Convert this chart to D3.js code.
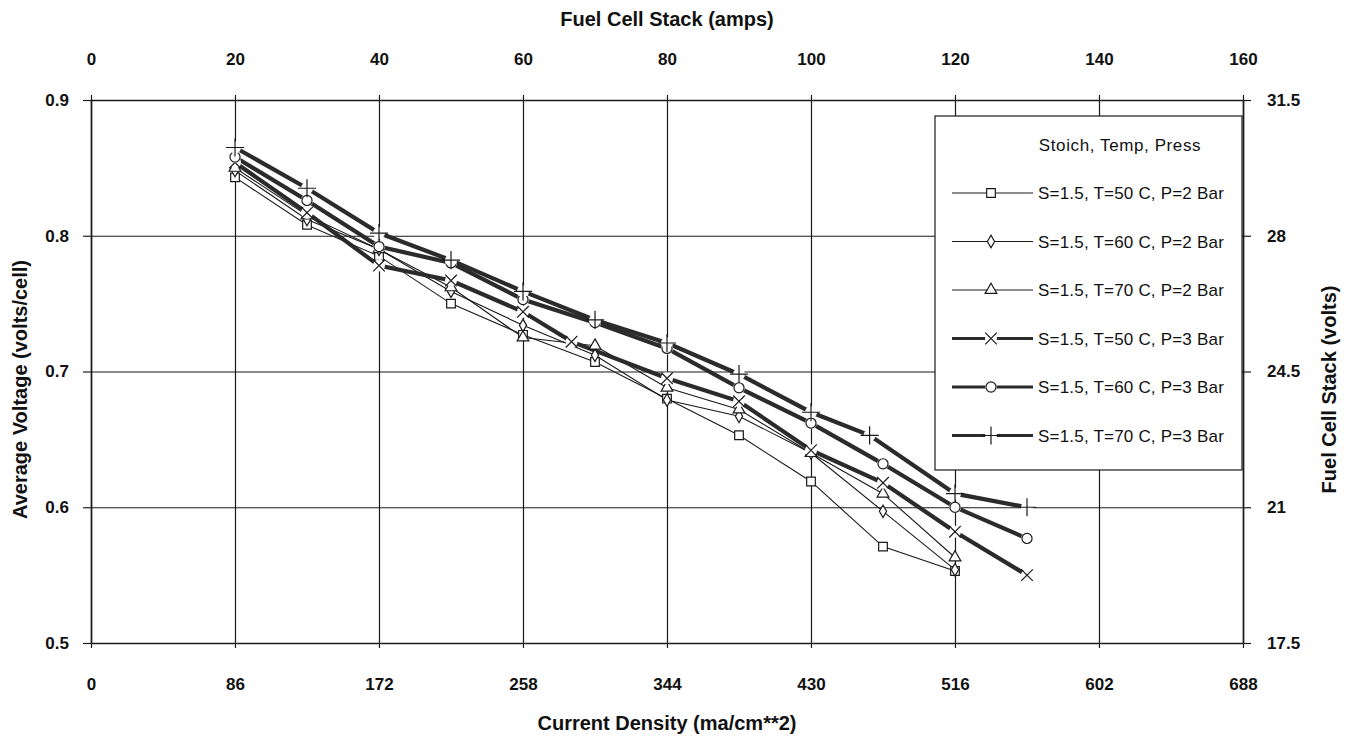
<!DOCTYPE html>
<html>
<head>
<meta charset="utf-8">
<script src="https://cdn.jsdelivr.net/npm/d3@7"></script>
<style>
  body { margin: 0; background: #fff; }
  svg text { font-family: Arial, "Liberation Sans", sans-serif; fill: #111; }
</style>
</head>
<body>
<div id="chart"></div>
<script>
// Current density points (ma/cm**2)
const cdStd = [86, 129, 172, 215, 258, 301, 344, 387, 430, 473, 516, 559];
const cd50C2 = cdStd.slice(0, 11);
const cd60C2 = cdStd.slice(0, 11);
const cd70C2 = cdStd.slice(0, 11);
const cd50C3 = [86, 129, 172, 215, 258, 287, 344, 387, 430, 473, 516, 559];
const cd60C3 = cdStd;
const cd70C3 = [86, 129, 172, 215, 258, 301, 344, 387, 430, 465, 516, 559];

// Average voltage (volts/cell)
const v50C2 = [0.843, 0.808, 0.785, 0.750, 0.727, 0.707, 0.680, 0.653, 0.619, 0.571, 0.553];
const v60C2 = [0.848, 0.812, 0.790, 0.759, 0.734, 0.712, 0.679, 0.667, 0.640, 0.597, 0.554];
const v70C2 = [0.850, 0.815, 0.790, 0.762, 0.725, 0.719, 0.688, 0.672, 0.640, 0.610, 0.563];
const v50C3 = [0.854, 0.817, 0.778, 0.767, 0.744, 0.722, 0.695, 0.678, 0.642, 0.618, 0.582, 0.550];
const v60C3 = [0.858, 0.826, 0.792, 0.780, 0.753, 0.736, 0.717, 0.688, 0.662, 0.632, 0.600, 0.577];
const v70C3 = [0.865, 0.835, 0.802, 0.782, 0.759, 0.738, 0.721, 0.698, 0.670, 0.653, 0.610, 0.600];

const seriesNames = [
  'S=1.5, T=50 C, P=2 Bar', 'S=1.5, T=60 C, P=2 Bar', 'S=1.5, T=70 C, P=2 Bar',
  'S=1.5, T=50 C, P=3 Bar', 'S=1.5, T=60 C, P=3 Bar', 'S=1.5, T=70 C, P=3 Bar'
];

// Axis ticks
const xTicks = [0, 86, 172, 258, 344, 430, 516, 602, 688];
const ampTicks = [0, 20, 40, 60, 80, 100, 120, 140, 160];
const yTicks = [0.5, 0.6, 0.7, 0.8, 0.9];
const stackTicks = [17.5, 21, 24.5, 28, 31.5];

const margin = { top: 100, right: 103, bottom: 96, left: 91 };
const W = 1346, H = 739;
const width = W - margin.left - margin.right;
const height = H - margin.top - margin.bottom;

const svg = d3.select('#chart').append('svg')
  .attr('width', W).attr('height', H);
const g = svg.append('g').attr('transform', `translate(${margin.left},${margin.top})`);

const x = d3.scaleLinear().domain([0, 688]).range([0, width]);
const xAmp = d3.scaleLinear().domain([0, 160]).range([0, width]);
const y = d3.scaleLinear().domain([0.5, 0.9]).range([height, 0]);
const yStack = d3.scaleLinear().domain([17.5, 31.5]).range([height, 0]);

const ink = '#1a1a1a';

// Grid lines
g.append('g')
  .call(d3.axisBottom(x).tickValues(xTicks).tickSize(height).tickFormat(''))
  .call(s => s.select('.domain').remove())
  .selectAll('line').attr('stroke', ink).attr('stroke-width', 1.2);
g.append('g')
  .call(d3.axisLeft(y).tickValues(yTicks).tickSize(-width).tickFormat(''))
  .call(s => s.select('.domain').remove())
  .selectAll('line').attr('stroke', ink).attr('stroke-width', 1.2);

// Axes
function styleAxis(sel) {
  sel.select('.domain').attr('stroke', ink).attr('stroke-width', 1.6);
  sel.selectAll('.tick line').attr('stroke', ink).attr('stroke-width', 1.2);
  sel.selectAll('text').style('font-size', '17px').style('font-weight', 'bold').attr('fill', ink);
}
g.append('g').attr('transform', `translate(0,${height})`)
  .call(d3.axisBottom(x).tickValues(xTicks).tickSize(5).tickPadding(30).tickSizeOuter(0))
  .call(styleAxis);
g.append('g')
  .call(d3.axisTop(xAmp).tickValues(ampTicks).tickSize(5).tickPadding(30).tickSizeOuter(0))
  .call(styleAxis);
g.append('g')
  .call(d3.axisLeft(y).tickValues(yTicks).tickSize(8).tickPadding(14).tickSizeOuter(0)
    .tickFormat(d3.format('.1f')))
  .call(styleAxis);
g.append('g').attr('transform', `translate(${width},0)`)
  .call(d3.axisRight(yStack).tickValues(stackTicks).tickSize(8).tickPadding(16).tickSizeOuter(0)
    .tickFormat(d => d3.format('.1f')(d).replace('.0', '')))
  .call(styleAxis);

// Axis titles
const titleSize = '20px';
svg.append('text').attr('x', margin.left + width / 2).attr('y', 26)
  .attr('text-anchor', 'middle').style('font-size', titleSize).style('font-weight', 'bold')
  .text('Fuel Cell Stack (amps)');
svg.append('text').attr('x', margin.left + width / 2).attr('y', 730)
  .attr('text-anchor', 'middle').style('font-size', titleSize).style('font-weight', 'bold')
  .text('Current Density (ma/cm**2)');
svg.append('text').attr('transform', `translate(27,${margin.top + height / 2 + 18}) rotate(-90)`)
  .attr('text-anchor', 'middle').style('font-size', titleSize).style('font-weight', 'bold')
  .text('Average Voltage (volts/cell)');
svg.append('text').attr('transform', `translate(1336,${margin.top + height / 2 + 18}) rotate(-90)`)
  .attr('text-anchor', 'middle').style('font-size', titleSize).style('font-weight', 'bold')
  .text('Fuel Cell Stack (volts)');

// Series
const symbols = [d3.symbolSquare, d3.symbolDiamond, d3.symbolTriangle, d3.symbolTimes, d3.symbolCircle, d3.symbolPlus];
const symSizes = [75, 45, 60, 90, 80, 110];
const xs = [cd50C2, cd60C2, cd70C2, cd50C3, cd60C3, cd70C3];
const vs = [v50C2, v60C2, v70C2, v50C3, v60C3, v70C3];
const seriesData = seriesNames.map((name, i) => ({
  name,
  thick: i >= 3,
  symbol: symbols[i],
  size: symSizes[i],
  values: xs[i].map((cd, j) => ({ cd, v: vs[i][j] }))
}));

const line = d3.line().x(d => x(d.cd)).y(d => y(d.v));

seriesData.forEach(s => {
  g.append('path').datum(s.values)
    .attr('fill', 'none')
    .attr('stroke', s.thick ? '#2b2b2b' : ink)
    .attr('stroke-width', s.thick ? 4.2 : 1.1)
    .attr('d', line);
});

function drawMarker(sel, s) {
  const stroked = s.symbol === d3.symbolTimes || s.symbol === d3.symbolPlus;
  if (s.thick) {
    sel.append('circle').attr('r', 6).attr('fill', '#fff');
  }
  sel.append('path')
    .attr('d', d3.symbol().type(s.symbol).size(s.size)())
    .attr('fill', stroked ? 'none' : '#fff')
    .attr('stroke', ink)
    .attr('stroke-width', 1.2);
}

seriesData.forEach(s => {
  s.values.forEach(d => {
    const m = g.append('g').attr('transform', `translate(${x(d.cd)},${y(d.v)})`);
    drawMarker(m, s);
  });
});

// Legend
const lg = svg.append('g').attr('transform', 'translate(935,116)');
lg.append('rect').attr('width', 307).attr('height', 354)
  .attr('fill', '#fff').attr('stroke', ink).attr('stroke-width', 1.2);
lg.append('text').attr('x', 185).attr('y', 35).attr('text-anchor', 'middle')
  .style('font-size', '17px').style('letter-spacing', '0.6px').text('Stoich, Temp, Press');
seriesData.forEach((s, i) => {
  const row = lg.append('g').attr('transform', `translate(0,${77 + i * 48.5})`);
  row.append('line').attr('x1', 17).attr('x2', 98).attr('y1', 0).attr('y2', 0)
    .attr('stroke', s.thick ? '#2b2b2b' : ink).attr('stroke-width', s.thick ? 3 : 1.1);
  const m = row.append('g').attr('transform', 'translate(56,0)');
  drawMarker(m, s);
  row.append('text').attr('x', 103).attr('y', 6)
    .style('font-size', '17px').style('letter-spacing', '0.2px').text(s.name);
});
</script>
</body>
</html>
